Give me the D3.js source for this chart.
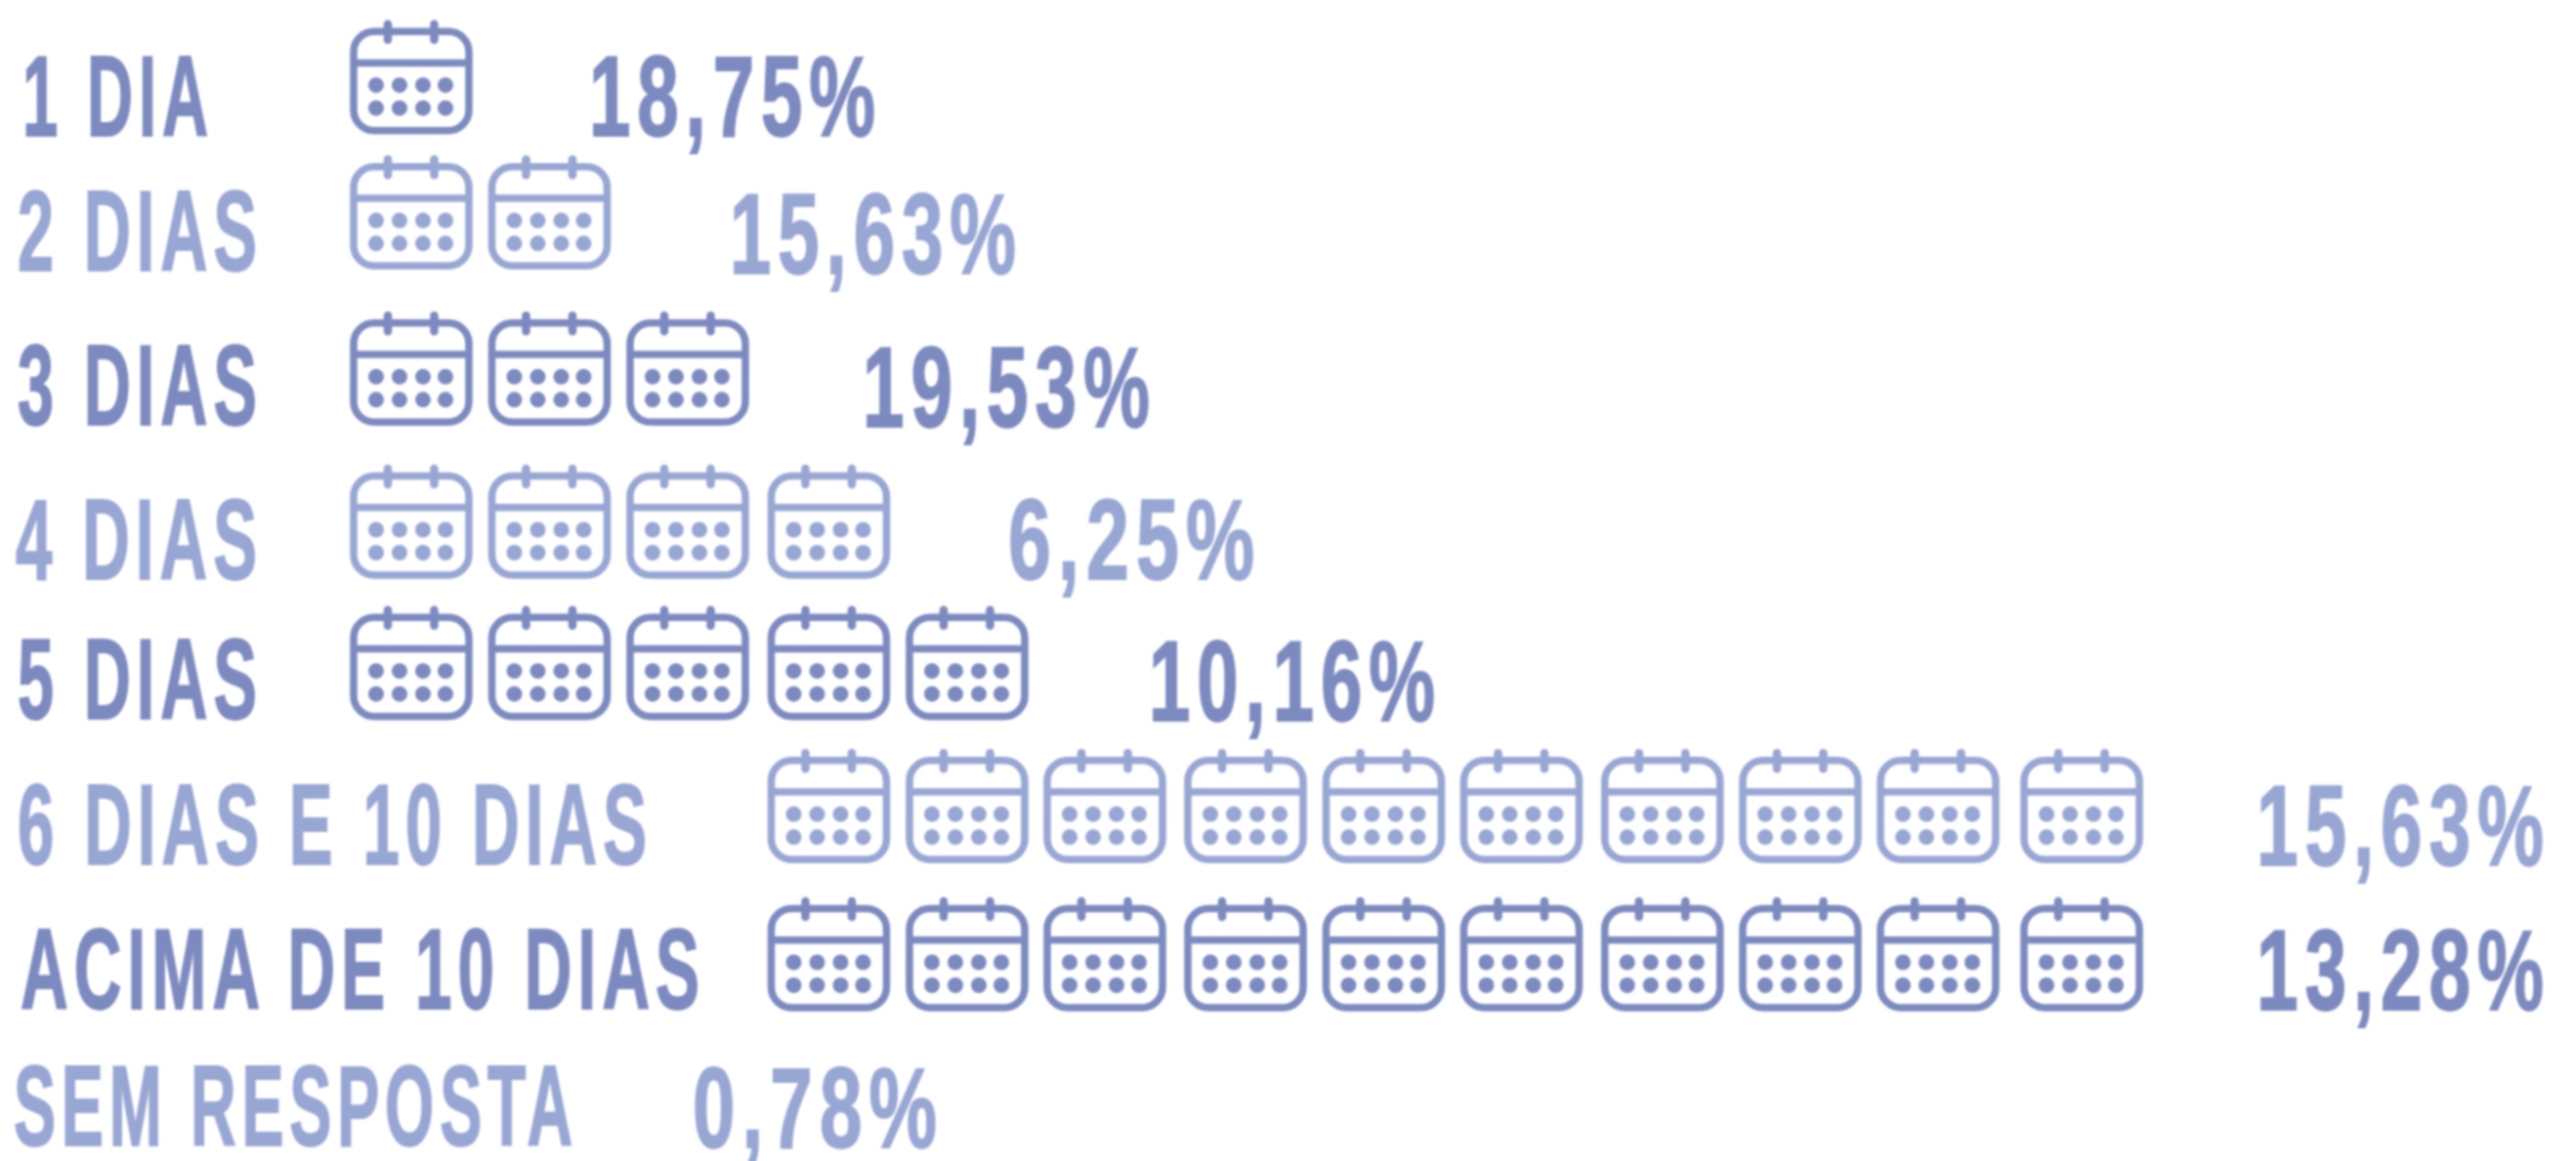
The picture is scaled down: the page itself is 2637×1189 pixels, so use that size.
<!DOCTYPE html>
<html><head><meta charset="utf-8">
<script src="https://cdn.jsdelivr.net/npm/d3@7"></script>
<style>html,body{margin:0;background:#fff}svg{display:block}text{font-family:"Liberation Sans",Arial,sans-serif;font-weight:700}</style>
</head><body><svg id="c" width="2637" height="1189"></svg>
<script>
// data
const categories = ["1 DIA","2 DIAS","3 DIAS","4 DIAS","5 DIAS","6 DIAS E 10 DIAS","ACIMA DE 10 DIAS","SEM RESPOSTA"];
const iconCounts = [1,2,3,4,5,10,10,0];
const valueLabels = ["18,75%","15,63%","19,53%","6,25%","10,16%","15,63%","13,28%","0,78%"];
// layout
const colors = ["#7d8abf","#98a6d3"];
const slotX=[358,499.5,641,785.5,927,1068,1212,1353.5,1494.5,1638.8,1780,1921,2068];
const iconStart=[0,0,0,0,0,3,3,0];
const iconTop=[20.7,159.3,319.3,476,620.7,767.3,919,0];
const labelBox=[[23,213,58,140],[18,263,196,278],[18,263,354,436],[16,263,512,594],[18,263,655,737],[18,662,804,886],[21,716,952,1034],[14,586,1092,1174]];
const valueBox=[[603,896,58,140],[747,1040,199,281],[883,1177,356,438],[1032,1284,512,594],[1176,1469,657,739],[2310,2604,805,887],[2310,2604,953,1035],[709,959,1094,1176]];
const svg=d3.select("#c");
const blur=svg.append("defs").append("filter").attr("id","soft").attr("filterUnits","userSpaceOnUse").attr("x",0).attr("y",0).attr("width",2637).attr("height",1189);
blur.append("feGaussianBlur").attr("stdDeviation",0.8);
const root=svg.append("g").attr("filter","url(#soft)");
const x=d3.scaleOrdinal(d3.range(slotX.length),slotX);
const y=d3.scaleOrdinal(categories,iconTop);
const color=d3.scaleOrdinal(d3.range(2),colors);
const rows=root.selectAll("g.row").data(categories).join("g").attr("class","row").attr("fill",(d,i)=>color(i%2)).attr("stroke",(d,i)=>color(i%2));
const sw=1.8, ls=0.09;
function txt(sel,box,s){
  const fs=(box[3]-box[2]-sw)/0.688;
  const t=sel.append("text").text(s).attr("stroke-width",sw).attr("font-size",fs).style("letter-spacing",(ls*fs)+"px");
  const adv=t.node().getComputedTextLength()-ls*fs;
  t.attr("transform",`translate(${box[0]},${box[3]-sw/2}) scale(${(box[1]-box[0])/adv},1)`);
}
rows.each(function(d,i){
  const g=d3.select(this);
  txt(g,labelBox[i],d);
  txt(g,valueBox[i],valueLabels[i]);
  const icons=g.selectAll("g.icon").data(d3.range(iconCounts[i])).join("g").attr("class","icon")
    .attr("transform",k=>`translate(${x(k+iconStart[i])},${y(d)})`);
  icons.append("rect").attr("x",4).attr("y",11.5).attr("width",118).attr("height",101.5).attr("rx",21).attr("fill","none").attr("stroke-width",7.5);
  icons.append("line").attr("x1",4).attr("x2",122).attr("y1",43.7).attr("y2",43.7).attr("stroke-width",7.5);
  icons.selectAll("line.peg").data([39,86.5]).join("line").attr("class","peg").attr("x1",p=>p).attr("x2",p=>p).attr("y1",4).attr("y2",20).attr("stroke-width",8.5).attr("stroke-linecap","round");
  icons.selectAll("circle").data(d3.cross([27,51,75,98],[66.5,90])).join("circle").attr("cx",p=>p[0]).attr("cy",p=>p[1]).attr("r",8).attr("stroke","none");
});
</script></body></html>
